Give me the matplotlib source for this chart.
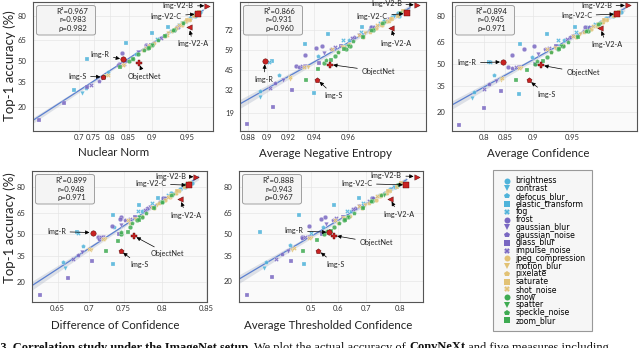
import numpy as np
import matplotlib
matplotlib.use("Agg")
import matplotlib.pyplot as plt
from matplotlib.lines import Line2D
from matplotlib.patches import FancyBboxPatch
from matplotlib.ticker import NullLocator
from matplotlib.transforms import offset_copy
from statistics import NormalDist

plt.rcParams['font.family'] = ['Lato', 'DejaVu Sans']

# ---------------- data ----------------
corruptions = ['brightness', 'contrast', 'defocus_blur', 'elastic_transform', 'fog',
               'frost', 'gaussian_blur', 'gaussian_noise', 'glass_blur', 'impulse_noise',
               'jpeg_compression', 'motion_blur', 'pixelate', 'saturate', 'shot_noise',
               'snow', 'spatter', 'speckle_noise', 'zoom_blur']
group_colors = ['#4fb3da', '#7a68c2', '#e2c275', '#3fab52']
group_markers = ['o', 'v', 'p', 's', 'X']

# top-1 accuracy (%) of each corruption, severities 1..5
y_accuracy = [
    [82, 81, 80, 79, 77], [80, 78, 75, 62, 27.5], [72, 66, 55, 42, 31],
    [74, 69.8, 63.5, 51.5, 30], [76, 74, 71, 66, 51], [74, 62, 60.5, 56, 48],
    [78, 69, 57, 48, 38], [74, 68, 60, 47, 36], [62, 50, 31.5, 22, 14],
    [72, 67, 61, 48, 33], [77, 75, 73, 68, 61], [76, 70, 61, 47, 39],
    [78, 77, 71, 63, 58], [80, 78, 82, 78, 75], [75, 69, 60, 47, 40],
    [72, 60, 62, 55, 50], [81, 76, 72, 68, 62], [76, 72, 65, 58, 52],
    [68, 60, 52, 45.6, 38.5]]

x_nuclear_norm = [
    [.9623, .9579, .9579, .9532, .9487], [.9562, .9525, .9404, .9000, .7085],
    [.9335, .9099, .8669, .7935, .7237], [.926, .899, .844, .727, .681],
    [.9446, .9374, .9302, .9082, .8409], [.9386, .8890, .8905, .8329, .8251],
    [.9505, .9237, .8716, .8378, .7772], [.9374, .9203, .8883, .8226, .7669],
    [.8981, .8431, .7273, .6421, .5426], [.9335, .9153, .8905, .8378, .7422],
    [.9487, .9438, .9367, .9219, .8960], [.9446, .9256, .8942, .8378, .7867],
    [.9515, .9477, .9316, .9039, .8820], [.9571, .9525, .9616, .9495, .9438],
    [.9404, .9237, .8883, .8352, .7955], [.9335, .8920, .9000, .8712, .8500],
    [.9589, .9457, .9335, .9219, .9000], [.9457, .9322, .9096, .8840, .8597],
    [.9219, .8940, .8597, .8277, .7834]]

x_neg_entropy = [
    [.9810, .9790, .9795, .9774, .9746], [.9780, .9769, .9741, .9581, .8923],
    [.9694, .9601, .9423, .9118, .8923], [.9661, .9489, .9334, .9052, .9398],
    [.9734, .9704, .9659, .9574, .9024], [.9698, .9451, .9413, .9331, .9266],
    [.9763, .9649, .9466, .9333, .9149], [.9711, .9628, .9503, .9287, .9082],
    [.9563, .9429, .9232, .9060, .8784], [.9694, .9615, .9529, .9307, .9035],
    [.9758, .9741, .9719, .9667, .9577], [.9741, .9676, .9567, .9353, .9216],
    [.9769, .9763, .9695, .9604, .9543], [.9790, .9774, .9806, .9769, .9741],
    [.9723, .9649, .9513, .9327, .9210], [.9707, .9589, .9607, .9529, .9463],
    [.9796, .9746, .9707, .9667, .9599], [.9741, .9701, .9621, .9543, .9473],
    [.9667, .9579, .9504, .9425, .9343]]

x_avg_conf = [
    [.9815, .9784, .9776, .9741, .9713], [.9771, .9745, .9678, .9361, .7685],
    [.9603, .9410, .8987, .8253, .7734], [.9525, .9213, .8790, .8139, .8776],
    [.9678, .9625, .9531, .9349, .8159], [.9608, .9020, .8861, .8639, .8551],
    [.9733, .9507, .9084, .8768, .8287], [.9633, .9470, .9184, .8635, .8130],
    [.9323, .9042, .8409, .7995, .7327], [.9594, .9441, .9233, .8705, .8001],
    [.9720, .9686, .9650, .9531, .9342], [.9693, .9563, .9316, .8802, .8399],
    [.9739, .9726, .9596, .9404, .9259], [.9781, .9745, .9805, .9733, .9693],
    [.9664, .9507, .9213, .8762, .8433], [.9628, .9350, .9398, .9213, .9042],
    [.9789, .9706, .9620, .9541, .9386], [.9693, .9611, .9450, .9259, .9070],
    [.9551, .9362, .9151, .8912, .8712]]

x_diff_conf = [
    [.8349, .8261, .8277, .8214, .8115], [.8251, .8204, .8103, .7715, .6624],
    [.7975, .7751, .7370, .6897, .6587], [.7959, .7713, .7357, .6805, .7350],
    [.8081, .8015, .7884, .7692, .6822], [.8015, .7467, .7451, .7334, .7136],
    [.8178, .7849, .7464, .7204, .6894], [.8043, .7817, .7527, .7140, .6819],
    [.7655, .7435, .7037, .6668, .6217], [.7975, .7785, .7593, .7170, .6740],
    [.8170, .8103, .8037, .7905, .7686], [.8109, .7939, .7655, .7241, .7033],
    [.8204, .8170, .7970, .7746, .7590], [.8277, .8204, .8325, .8178, .8103],
    [.8075, .7878, .7559, .7207, .7002], [.8003, .7683, .7746, .7593, .7467],
    [.8287, .8135, .8003, .7905, .7715], [.8109, .8003, .7808, .7621, .7467],
    [.7905, .7712, .7562, .7425, .7254]]

x_thresh_conf = [
    [.8091, .7941, .7878, .7722, .7567], [.7849, .7722, .7412, .6308, .3296],
    [.7105, .6484, .5450, .4235, .3376], [.6769, .5878, .4562, .3167, .4745],
    [.7441, .7187, .6872, .6334, .5008], [.7187, .5533, .5394, .4940, .4657],
    [.7660, .6762, .5588, .4936, .4145], [.7221, .6631, .5820, .4685, .3920],
    [.6194, .5434, .4262, .3564, .2756], [.7071, .6540, .5952, .4777, .3715],
    [.7599, .7445, .7297, .6847, .6259], [.7473, .6957, .6183, .5004, .4313],
    [.7692, .7630, .7082, .6439, .6030], [.7907, .7722, .8037, .7660, .7476],
    [.7347, .6762, .5898, .4924, .4368], [.7174, .6244, .6383, .5882, .5513],
    [.7941, .7536, .7174, .6883, .6383], [.7473, .7140, .6576, .6068, .5612],
    [.6883, .6282, .5769, .5239, .4701]]

dataset_names = ['Img-V2-A', 'Img-V2-B', 'Img-V2-C', 'Img-R', 'ObjectNet', 'Img-S']
dataset_markers = ['<', '>', 's', 'o', 'P', 'p']
dataset_acc = [73.5, 84.8, 81.0, 51.3, 49.0, 38.5]
ds_nuclear_norm = [0.952, 0.968, 0.960, 0.836, 0.873, 0.781]
ds_neg_entropy = [0.977, 0.984, 0.9815, 0.898, 0.950, 0.942]
ds_avg_conf = [0.971, 0.984, 0.9796, 0.845, 0.913, 0.894]
ds_diff_conf = [0.822, 0.840, 0.832, 0.705, 0.764, 0.746]
ds_thresh_conf = [0.773, 0.841, 0.8156, 0.570, 0.587, 0.529]

panel_titles = ['Nuclear Norm', 'Average Negative Entropy', 'Average Confidence',
                'Difference of Confidence', 'Average Thresholded Confidence']
x_ticks = [[0.7, 0.75, 0.8, 0.85, 0.9, 0.95], [0.88, 0.9, 0.92, 0.94, 0.96],
           [0.8, 0.85, 0.9, 0.95], [0.65, 0.7, 0.75, 0.8, 0.85], [0.5, 0.6, 0.7, 0.8]]
y_ticks = [[20, 35, 50, 65, 80], [19, 32, 45, 59, 72], [20, 35, 50, 65, 80],
           [20, 35, 50, 65, 80], [20, 35, 50, 65, 80]]
stat_r2 = ['0.967', '0.866', '0.894', '0.899', '0.888']
stat_r = ['0.983', '0.931', '0.945', '0.948', '0.943']
stat_rho = ['0.982', '0.960', '0.971', '0.971', '0.967']

# ---------------- layout ----------------
W, H = 640, 348
fig = plt.figure(figsize=(W / 100, H / 100), dpi=100)
panel_px = [(33, 2, 213, 131), (240, 2, 426, 131), (452, 2, 637, 131),
            (32, 171, 207, 302), (239, 171, 423, 302)]
xlims = [(0.518, 0.972), (0.870, 0.986), (0.710, 0.987), (0.6076, 0.851), (0.2495, 0.855)]
ylims = [(9.8, 86.4), (11.5, 86.0), (11.8, 86.2), (11.4, 87.1), (11.3, 87.0)]
xlabel_pos = [(0.45, -0.17), (0.461, -0.174), (0.465, -0.178), (0.474, -0.183), (0.484, -0.183)]

# annotation offsets in pixels (dx, dy-down, ha)
ann = [
    [(3.7, 16.6, 'center'), (-14, 0, 'right'), (-16, 2.7, 'right'), (-13.7, -5.3, 'right'), (5.7, 14, 'center'), (-17, -1, 'right')],
    [(5, 15.7, 'center'), (-15, -1, 'right'), (-19, 2.7, 'right'), (-1, 18.3, 'center'), (31.4, 6.7, 'left'), (16.5, 15.7, 'center')],
    [(6, 16.7, 'center'), (-16, 0, 'right'), (-25, 1.7, 'right'), (-26.7, 1, 'right'), (25, 7.7, 'left'), (17.7, 14, 'center')],
    [(6, 16, 'center'), (-10, 0, 'right'), (-22.7, -1.4, 'right'), (-26.7, -1, 'right'), (16.7, 18, 'left'), (18.6, 14, 'center')],
    [(8.3, 15.3, 'center'), (-15, -1, 'right'), (-33.7, -1.4, 'right'), (-26, -1.6, 'right'), (25.3, 7.3, 'left'), (16.7, 13.7, 'center')],
]

measures = [x_nuclear_norm, x_neg_entropy, x_avg_conf, x_diff_conf, x_thresh_conf]
ds_measures = [ds_nuclear_norm, ds_neg_entropy, ds_avg_conf, ds_diff_conf, ds_thresh_conf]

_nd = NormalDist()
_icdf = np.vectorize(_nd.inv_cdf, otypes=[float])
_cdf = np.vectorize(_nd.cdf, otypes=[float])


def probit(v):
    v = np.clip(np.nan_to_num(np.asarray(v, dtype=float), nan=0.5), 1e-9, 1 - 1e-9)
    return _icdf(v)


def inv_probit(p):
    return _cdf(np.asarray(p, dtype=float))


def probit_pct(v):
    return probit(np.asarray(v, dtype=float) / 100.0)


def inv_probit_pct(p):
    return 100.0 * inv_probit(p)


for k in range(5):
    l, t, r, b = panel_px[k]
    ax = fig.add_axes([l / W, 1 - b / H, (r - l) / W, (b - t) / H])
    axw, axh = r - l, b - t
    ax.set_xscale('function', functions=(probit, inv_probit))
    ax.set_yscale('function', functions=(probit_pct, inv_probit_pct))
    ax.set_facecolor('#fafafa')
    ax.set_axisbelow(True)
    ax.grid(True, color='#e6e6e6', lw=0.5)
    for sp in ax.spines.values():
        sp.set_color('#555555')
        sp.set_linewidth(0.8)

    xs = measures[k]
    X = probit(np.ravel(xs))
    Y = probit_pct(np.ravel(y_accuracy))
    a, c0 = np.polyfit(X, Y, 1)
    n = len(X)
    s = np.sqrt(np.sum((Y - (a * X + c0)) ** 2) / (n - 2))
    sxx = np.sum((X - X.mean()) ** 2)
    gx = np.linspace(probit(xlims[k][0]), X.max() + 0.03, 120)
    gy = a * gx + c0
    band = 1.96 * s * np.sqrt(1 / n + (gx - X.mean()) ** 2 / sxx)
    ax.fill_between(inv_probit(gx), inv_probit_pct(gy - band), inv_probit_pct(gy + band),
                    color='#a7b0c2', alpha=0.35, lw=0, zorder=1)
    ax.plot(inv_probit(gx), inv_probit_pct(gy), color='#5b80d0', lw=0.9, zorder=2)

    for i in range(len(corruptions)):
        ax.scatter(xs[i], y_accuracy[i], s=11, marker=group_markers[i % 5],
                   color=group_colors[i // 5], alpha=0.85, edgecolors='white',
                   linewidths=0.2, zorder=3)

    dsx = ds_measures[k]
    for j in range(len(dataset_names)):
        ax.scatter(dsx[j], dataset_acc[j], s=15, marker=dataset_markers[j], color='#c82222',
                   edgecolors='#500000', linewidths=0.3, zorder=5)
        dx, dy, ha = ann[k][j]
        ax.annotate(dataset_names[j], xy=(dsx[j], dataset_acc[j]),
                    xytext=(dx * 0.72, -dy * 0.72), textcoords='offset points',
                    ha=ha, va='center', fontsize=5.2, color='#222222', zorder=6,
                    arrowprops=dict(arrowstyle='-|>,head_length=0.45,head_width=0.22',
                                    color='black', lw=0.5, shrinkA=1, shrinkB=2.2))

    ax.set_xlim(*xlims[k])
    ax.set_ylim(*ylims[k])
    ax.set_xticks(x_ticks[k])
    ax.set_xticklabels([f'{v:g}' for v in x_ticks[k]])
    ax.set_yticks(y_ticks[k])
    ax.set_yticklabels([str(v) for v in y_ticks[k]])
    ax.xaxis.set_minor_locator(NullLocator())
    ax.yaxis.set_minor_locator(NullLocator())
    ax.tick_params(axis='x', length=0, labelsize=5.5, pad=2.5, colors='#333333')
    ax.tick_params(axis='y', length=0, labelsize=5.5, pad=4.5, colors='#333333')

    ax.set_xlabel(panel_titles[k], fontsize=8.3, color='#222222')
    ax.xaxis.set_label_coords(*xlabel_pos[k])
    ax.xaxis.label.set_va('center')
    if k in (0, 3):
        ax.set_ylabel('Top-1 accuracy (%)', fontsize=9.5, color='#222222')
        ax.yaxis.set_label_coords((9.5 - l) / axw, 0.51 if k == 0 else 0.569)
        ax.yaxis.label.set_va('center')

    # stats box
    bx, by, bw, bh = 3.5, 3.5, 59, 29.5
    box = FancyBboxPatch((bx / axw, 1 - (by + bh) / axh), bw / axw, bh / axh,
                         boxstyle='round,pad=0,rounding_size=0.015',
                         transform=ax.transAxes, facecolor='#f4f4f4',
                         edgecolor='#a0a0a0', lw=0.7, zorder=7, clip_on=False)
    ax.add_patch(box)
    lines = [f'R²={stat_r2[k]}', f'r={stat_r[k]}', f'ρ={stat_rho[k]}']
    for li, (txt, ly) in enumerate(zip(lines, [9.6, 18.0, 26.4])):
        tr = offset_copy(ax.transAxes, fig=fig, x=39.5 * 0.72, y=-ly * 0.72, units='points')
        ax.text(0, 1, txt, transform=tr, ha='center', va='center', fontsize=5.6,
                color='#222222', zorder=8)

# legend
handles = [Line2D([0], [0], marker=group_markers[i % 5], color=group_colors[i // 5],
                  linestyle='None', markersize=4.3, markeredgewidth=0)
           for i in range(len(corruptions))]
leg = fig.legend(handles, corruptions, loc='upper left',
                 bbox_to_anchor=(493 / W, 1 - 170 / H), bbox_transform=fig.transFigure,
                 prop={'family': 'DejaVu Sans', 'size': 5.6}, labelspacing=-0.16,
                 handlelength=2.0, handleheight=0.5, handletextpad=0.1, borderpad=0.8,
                 borderaxespad=0, frameon=True, fancybox=False, edgecolor='#999999',
                 facecolor='#f6f6f6', framealpha=1)
leg.get_frame().set_linewidth(0.8)

# caption (cut off at the bottom of the image)
cap_y = -2.5 / H
parts = [("Figure 3. Correlation study under the ImageNet setup.", 'bold'),
         (" We plot the actual accuracy of ", 'normal'),
         ("ConvNeXt", 'bold'),
         (" and five measures including", 'normal')]
fig.canvas.draw()
renderer = fig.canvas.get_renderer()
cx = -38 / W
for txt, wgt in parts:
    tt = fig.text(cx, cap_y, txt, fontsize=9, fontweight=wgt, family='Liberation Serif',
                  va='baseline', ha='left', color='#111111')
    bb = tt.get_window_extent(renderer)
    cx = bb.x1 / fig.bbox.width

fig.savefig('out.png', dpi=100)
